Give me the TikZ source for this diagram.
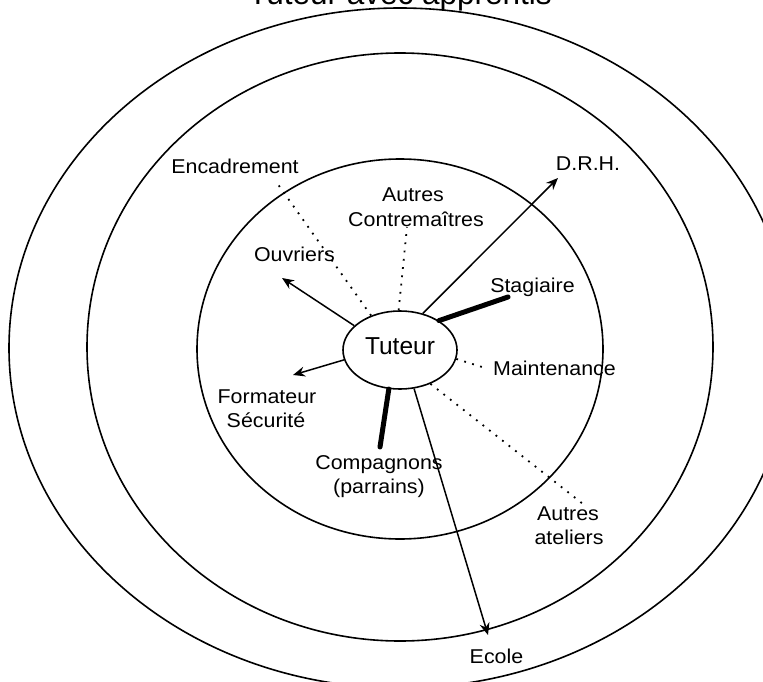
\documentclass[tikz,border=0pt]{standalone}
\usepackage{fontspec}
\setmainfont{Liberation Sans}
\newfontfamily\lblfont{Liberation Sans}[FakeStretch=1.07]
\usetikzlibrary{shapes.geometric,arrows.meta}

\begin{document}
\begin{tikzpicture}[x=1pt,y=-1pt,
  ring/.style={line width=1.6pt},
  lbl/.style={anchor=base,inner sep=0pt,font=\lblfont\fontsize{20}{24}\selectfont},
  link/.style={line width=1.5pt},
  arr/.style={link,-{Stealth[length=12pt,width=10pt,inset=4pt]}},
  strong/.style={line width=5pt,line cap=round},
  weak/.style={line width=1.8pt,dash pattern=on 1.8pt off 6.5pt},
]
\useasboundingbox (0,0) rectangle (763,682);
\begin{scope}
  \clip (0,0) rectangle (763,682);
  % concentric circles of influence
  \draw[ring] (400,348) ellipse [x radius=391, y radius=340];
  \draw[ring] (400,347) ellipse [x radius=313, y radius=294];
  \draw[ring] (400,349) ellipse [x radius=203, y radius=190];
  \node[anchor=base, inner sep=0pt, font=\fontsize{31.5}{36}\selectfont] (title) at (400,5) {Tuteur avec apprentis};
\end{scope}

% central node
\node[draw, ellipse, line width=1.6pt, minimum width=114pt, minimum height=78pt,
      inner sep=0pt, text height=17.5pt, text depth=9.5pt,
      font=\fontsize{24.5}{28}\selectfont] (tut) at (400,350) {Tuteur};

% labels
\node[lbl] (enc)  at (235,174) {Encadrement};
\node[lbl] (ouv)  at (294.5,261) {Ouvriers};
\node[lbl] (ctrA) at (413,201) {Autres};
\node[lbl] (ctrB) at (416,226) {Contremaîtres};
\node[lbl] (drh)  at (588,171) {D.R.H.};
\node[lbl] (stg)  at (532.5,292) {Stagiaire};
\node[lbl] (mnt)  at (554.5,375) {Maintenance};
\node[lbl] (ateA) at (568,520.5) {Autres};
\node[lbl] (ateB) at (569,544) {ateliers};
\node[lbl] (eco)  at (496.5,663) {Ecole};
\node[lbl] (cmpA) at (379,469.5) {Compagnons};
\node[lbl] (cmpB) at (379,493.5) {(parrains)};
\node[lbl] (fsA)  at (267,403) {Formateur};
\node[lbl] (fsB)  at (266,427) {Sécurité};

% free ends of the links
\coordinate (ouvTip) at (282,278);
\coordinate (encEnd) at (277,183);
\coordinate (ctrEnd) at (407,227);
\coordinate (drhTip) at (558,178);
\coordinate (stgEnd) at (508,297);
\coordinate (mntEnd) at (482,367);
\coordinate (ateEnd) at (583,504);
\coordinate (ecoTip) at (488,635);
\coordinate (cmpEnd) at (380,447);
\coordinate (fsTip)  at (293,375);

% links
\draw[arr]    (tut.152) -- (ouvTip);
\draw[weak]   (tut.130) -- (encEnd);
\draw[weak]   (tut.92)  -- (ctrEnd);
\draw[arr]    (tut.58)  -- (drhTip);
\draw[strong] (tut.37)  -- (stgEnd);
\draw[weak]   (tut.-9)  -- (mntEnd);
\draw[weak]   (tut.-48) -- (ateEnd);
\draw[arr]    (tut.-70) -- (ecoTip);
\draw[strong] (tut.-106) -- (cmpEnd);
\draw[arr]    (tut.190) -- (fsTip);
\end{tikzpicture}
\end{document}
